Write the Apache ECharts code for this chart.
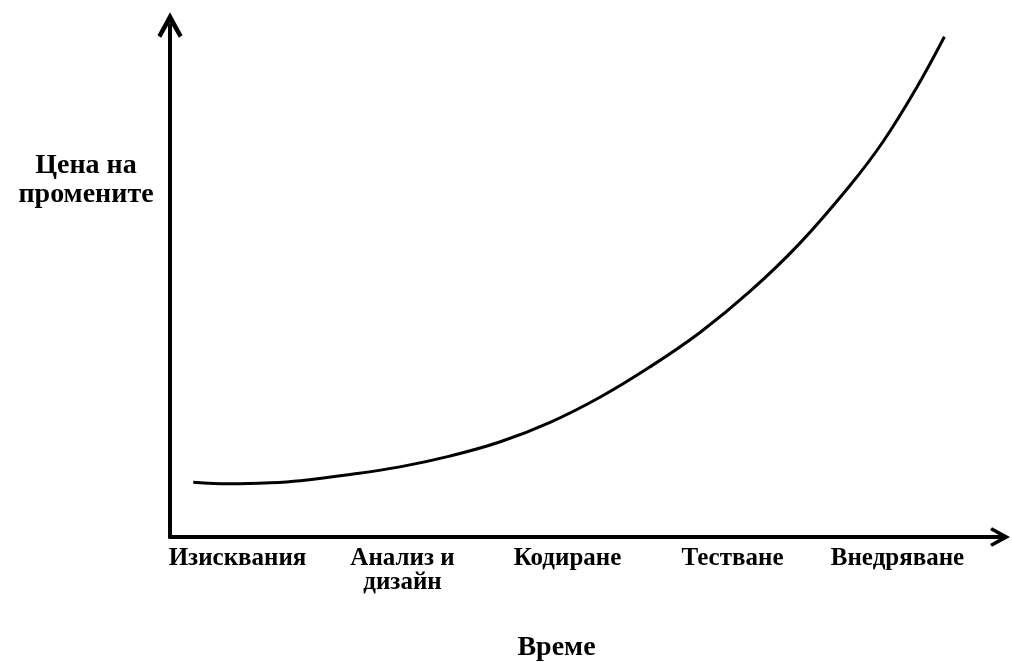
<!DOCTYPE html>
<html>
<head>
<meta charset="utf-8">
<script src="https://cdn.jsdelivr.net/npm/echarts@6/dist/echarts.min.js"></script>
<style>html,body{margin:0;padding:0;background:#fff}#c{width:1012px;height:662px}</style>
</head>
<body>
<div id="c"></div>
<script>
// Phase labels along the time axis
const categories = ['Изисквания', 'Анализ и\nдизайн', 'Кодиране', 'Тестване', 'Внедряване'];
// Curve: time (0-100, axis origin to arrow) and cost of change (0-100)
const timeValues = [2.8, 7.2, 12.1, 15.7, 21.7, 27.7, 33.7, 39.8, 45.8, 51.8, 57.8, 63.9, 69.9, 75.9, 81.9, 85.9, 90.0, 93.3];
const costValues = [10.7, 10.4, 10.6, 11.0, 12.2, 13.7, 15.8, 18.6, 22.4, 27.3, 33.2, 40.0, 48.0, 57.4, 68.6, 77.2, 87.9, 97.7];
const yName = 'Цена на\nпромените';
const xName = 'Време';

const FONT = '"Liberation Serif", "DejaVu Serif", serif';
const chevron = 'path://M12,0 L24,22 L20.5,24.5 L12,9.5 L3.5,24.5 L0,22 Z';

const chart = echarts.init(document.getElementById('c'));
chart.setOption({
  animation: false,
  backgroundColor: '#fff',
  grid: [
    { left: 170, right: 12, top: 25, bottom: 125, outerBoundsMode: 'none', containLabel: false },
    { left: 155, right: 32, top: 25, bottom: 125, outerBoundsMode: 'none', containLabel: false }
  ],
  xAxis: [
    {
      type: 'value', gridIndex: 0, min: 0, max: 100,
      axisLine: { show: true, lineStyle: { color: '#000', width: 4 }, symbol: ['none', chevron], symbolSize: [25, 20] },
      axisTick: { show: false }, axisLabel: { show: false }, splitLine: { show: false }
    },
    {
      type: 'category', gridIndex: 1, data: categories, boundaryGap: true,
      axisLine: { show: false }, axisTick: { show: false }, splitLine: { show: false },
      axisLabel: { show: true, interval: 0, hideOverlap: false, margin: 10, color: '#000', fontFamily: FONT, fontWeight: 'bold', fontSize: 25, lineHeight: 24 },
      name: xName, nameLocation: 'middle', nameGap: 97,
      nameTextStyle: { color: '#000', fontFamily: FONT, fontWeight: 'bold', fontSize: 28, padding: [0, 22, 0, 0] }
    }
  ],
  yAxis: [
    {
      type: 'value', gridIndex: 0, min: 0, max: 100,
      axisLine: { show: true, lineStyle: { color: '#000', width: 4 }, symbol: ['none', chevron], symbolSize: [25, 26] },
      axisTick: { show: false }, axisLabel: { show: false }, splitLine: { show: false }
    },
    {
      type: 'value', gridIndex: 1, show: false
    }
  ],
  graphic: [
    {
      type: 'text', x: 86, y: 151,
      style: { text: yName, fill: '#000', font: 'bold 28px ' + FONT, align: 'center', verticalAlign: 'top', lineHeight: 29 }
    }
  ],
  series: [
    {
      type: 'line', xAxisIndex: 0, yAxisIndex: 0,
      data: timeValues.map((t, i) => [t, costValues[i]]),
      smooth: 0.4, showSymbol: false, symbol: 'none',
      lineStyle: { color: '#000', width: 3 }
    }
  ]
});
</script>
</body>
</html>
